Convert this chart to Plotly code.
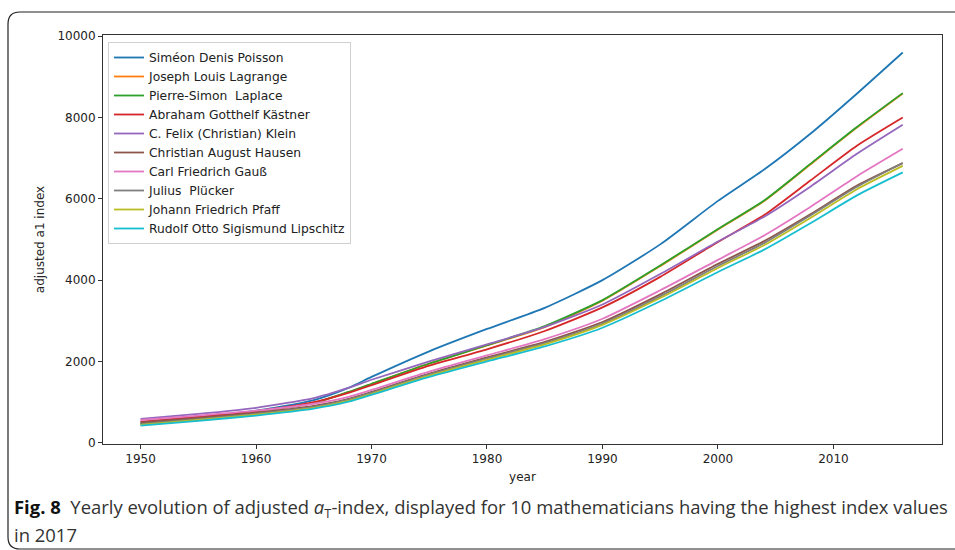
import plotly.graph_objects as go

# Sample years and adjusted a1-index values per mathematician
years = [1950, 1955, 1960, 1965, 1968, 1970, 1975, 1980, 1985, 1990, 1995, 2000, 2004, 2008, 2012, 2016]

names = [
    "Siméon Denis Poisson",
    "Joseph Louis Lagrange",
    "Pierre-Simon  Laplace",
    "Abraham Gotthelf Kästner",
    "C. Felix (Christian) Klein",
    "Christian August Hausen",
    "Carl Friedrich Gauß",
    "Julius  Plücker",
    "Johann Friedrich Pfaff",
    "Rudolf Otto Sigismund Lipschitz",
]

poisson   = [480, 620, 790, 1050, 1350, 1620, 2250, 2800, 3320, 4000, 4880, 5950, 6720, 7600, 8580, 9600]
lagrange  = [465, 595, 755, 975, 1245, 1445, 1945, 2395, 2845, 3495, 4345, 5245, 5945, 6845, 7745, 8590]
laplace   = [470, 600, 760, 980, 1250, 1450, 1950, 2400, 2870, 3510, 4360, 5260, 5960, 6860, 7760, 8600]
kaestner  = [520, 640, 780, 1000, 1230, 1420, 1900, 2300, 2750, 3330, 4080, 4940, 5600, 6450, 7300, 8000]
klein     = [590, 710, 860, 1100, 1350, 1550, 2000, 2420, 2850, 3400, 4150, 4950, 5560, 6300, 7100, 7820]
hausen    = [500, 610, 740, 910, 1080, 1250, 1700, 2100, 2480, 2970, 3650, 4400, 4960, 5620, 6320, 6880]
gauss     = [560, 670, 790, 960, 1130, 1300, 1750, 2150, 2550, 3050, 3750, 4500, 5100, 5800, 6550, 7230]
pluecker  = [460, 580, 710, 880, 1060, 1230, 1680, 2070, 2450, 2930, 3600, 4350, 4910, 5590, 6290, 6880]
pfaff     = [440, 560, 690, 860, 1030, 1200, 1650, 2040, 2420, 2900, 3560, 4300, 4860, 5530, 6230, 6810]
lipschitz = [420, 540, 670, 840, 1010, 1180, 1620, 2000, 2370, 2830, 3480, 4200, 4750, 5400, 6080, 6650]

series = [poisson, lagrange, laplace, kaestner, klein, hausen, gauss, pluecker, pfaff, lipschitz]
colors = ["#1f77b4", "#ff7f0e", "#2ca02c", "#d62728", "#9467bd",
          "#8c564b", "#e377c2", "#7f7f7f", "#bcbd22", "#17becf"]

x_ticks = [1950, 1960, 1970, 1980, 1990, 2000, 2010]
y_ticks = [0, 2000, 4000, 6000, 8000, 10000]
y_tick_labels = [str(v) for v in y_ticks]

W, H = 955, 550
ML, MR, MT, MB = 103, 13, 35, 106
PW, PH = W - ML - MR, H - MT - MB


def px(x):
    return (x - ML) / PW


def py(y):
    return (H - MB - y) / PH


fig = go.Figure()
for name, vals, col in zip(names, series, colors):
    fig.add_trace(go.Scatter(
        x=years, y=vals, name=name, mode="lines",
        line=dict(color=col, width=1.8, shape="spline", smoothing=0.6),
    ))

tick_font = dict(family="DejaVu Sans", size=12, color="#222")
title_font = dict(family="DejaVu Sans", size=12, color="#222")

fig.update_layout(
    width=W, height=H,
    margin=dict(l=ML, r=MR, t=MT, b=MB),
    paper_bgcolor="white", plot_bgcolor="white",
    font=dict(family="DejaVu Sans", size=12, color="#222"),
    xaxis=dict(
        range=[1946.75, 2019.4], tickvals=x_ticks, ticks="outside", ticklen=4,
        tickcolor="#333", showline=True, linecolor="#333", linewidth=1, mirror=True,
        showgrid=False, zeroline=False, tickfont=tick_font,
        title=dict(text="year", font=title_font, standoff=7),
    ),
    yaxis=dict(
        range=[-30, 10030], tickvals=y_ticks, ticktext=y_tick_labels,
        ticks="outside", ticklen=4,
        tickcolor="#333", showline=True, linecolor="#333", linewidth=1, mirror=True,
        showgrid=False, zeroline=False, tickfont=tick_font,
        title=dict(text="adjusted a1 index", font=title_font, standoff=10),
    ),
    legend=dict(
        x=px(108), y=py(42), xanchor="left", yanchor="top",
        bgcolor="white", bordercolor="#d0d0d0", borderwidth=1,
        font=dict(family="DejaVu Sans", size=12.3, color="#222"),
        itemwidth=30, tracegroupgap=0,
    ),
)

# Rounded frame around the figure and its caption
L, T, R, B = px(8), py(12), px(965), py(549)
rx, ry = 12 / PW, 12 / PH
frame = (f"M {R},{T} L {L + rx},{T} Q {L},{T} {L},{T - ry} "
         f"L {L},{B + ry} Q {L},{B} {L + rx},{B} L {R},{B}")
fig.add_shape(type="path", path=frame, xref="paper", yref="paper",
              line=dict(color="#222", width=1.2))

cap_font = dict(family="Open Sans", size=18.45, color="#333")
fig.add_annotation(
    xref="paper", yref="paper", x=px(12), y=py(508), xanchor="left", yanchor="middle",
    showarrow=False, font=cap_font,
    text="<b style='color:#111'>Fig. 8</b>  Yearly evolution of adjusted <i>a</i><sub>T</sub>-index, "
         "displayed for 10 mathematicians having the highest index values",
)
fig.add_annotation(
    xref="paper", yref="paper", x=px(12), y=py(534), xanchor="left", yanchor="middle",
    showarrow=False, font=cap_font, text="in 2017",
)

fig.write_html("out.html")
